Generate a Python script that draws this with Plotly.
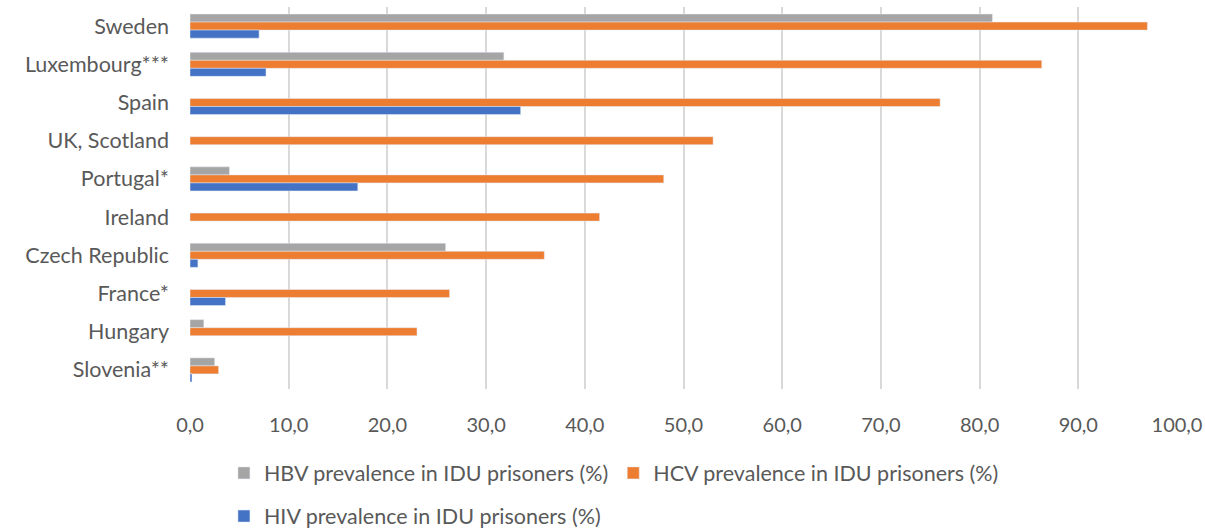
import plotly.graph_objects as go

# Countries listed top to bottom as in the chart
countries = ["Sweden", "Luxembourg***", "Spain", "UK, Scotland", "Portugal*",
             "Ireland", "Czech Republic", "France*", "Hungary", "Slovenia**"]

hbv = [81.3, 31.8, None, None, 4.0, None, 25.9, None, 1.4, 2.5]
hcv = [97.0, 86.3, 76.0, 53.0, 48.0, 41.5, 35.9, 26.3, 23.0, 2.9]
hiv = [7.0, 7.7, 33.5, None, 17.0, None, 0.8, 3.6, None, 0.2]

x_ticks = [0, 10, 20, 30, 40, 50, 60, 70, 80, 90, 100]

font_family = "Lato"
text_color = "#595959"

fig = go.Figure()

fig.add_trace(go.Bar(y=countries, x=hbv, orientation="h", name="HBV prevalence in IDU prisoners (%)",
                     marker_color="#A5A5A5", legend="legend"))
fig.add_trace(go.Bar(y=countries, x=hcv, orientation="h", name="HCV prevalence in IDU prisoners (%)",
                     marker_color="#ED7D31", legend="legend"))
fig.add_trace(go.Bar(y=countries, x=hiv, orientation="h", name="HIV prevalence in IDU prisoners (%)",
                     marker_color="#4472C4", legend="legend2"))

fig.update_layout(
    width=1205,
    height=531,
    margin=dict(l=190, r=28, t=7, b=142, autoexpand=False),
    plot_bgcolor="white",
    paper_bgcolor="white",
    barmode="group",
    bargap=0.37,
    bargroupgap=0,
    separators=",.",
    font=dict(family=font_family, size=21, color=text_color),
    showlegend=True,
    legend=dict(orientation="h", x=0.0344, xanchor="left", y=-0.166, yanchor="top",
                font=dict(size=21.5, color=text_color),
                itemwidth=30, traceorder="normal"),
    legend2=dict(orientation="h", x=0.0344, xanchor="left", y=-0.279, yanchor="top",
                 font=dict(size=21.5, color=text_color), itemwidth=30),
)

fig.update_xaxes(
    range=[0, 100],
    tickvals=x_ticks,
    tickformat=".1f",
    showgrid=True,
    gridcolor="#D9D9D9",
    gridwidth=1.5,
    zeroline=False,
    showline=False,
    ticks="",
    automargin=False,
    ticklabelstandoff=22,
    tickfont=dict(size=20, color=text_color),
)

fig.update_yaxes(
    autorange="reversed",
    showgrid=False,
    zeroline=False,
    showline=False,
    ticks="",
    automargin=False,
    ticklabelstandoff=20,
    tickfont=dict(size=21.5, color=text_color),
)

# drop the default page margin so the figure fills the window exactly
fig.write_html("out.html", config={"displayModeBar": False},
               post_script="document.body.style.margin='0';document.body.style.overflow='hidden';")
